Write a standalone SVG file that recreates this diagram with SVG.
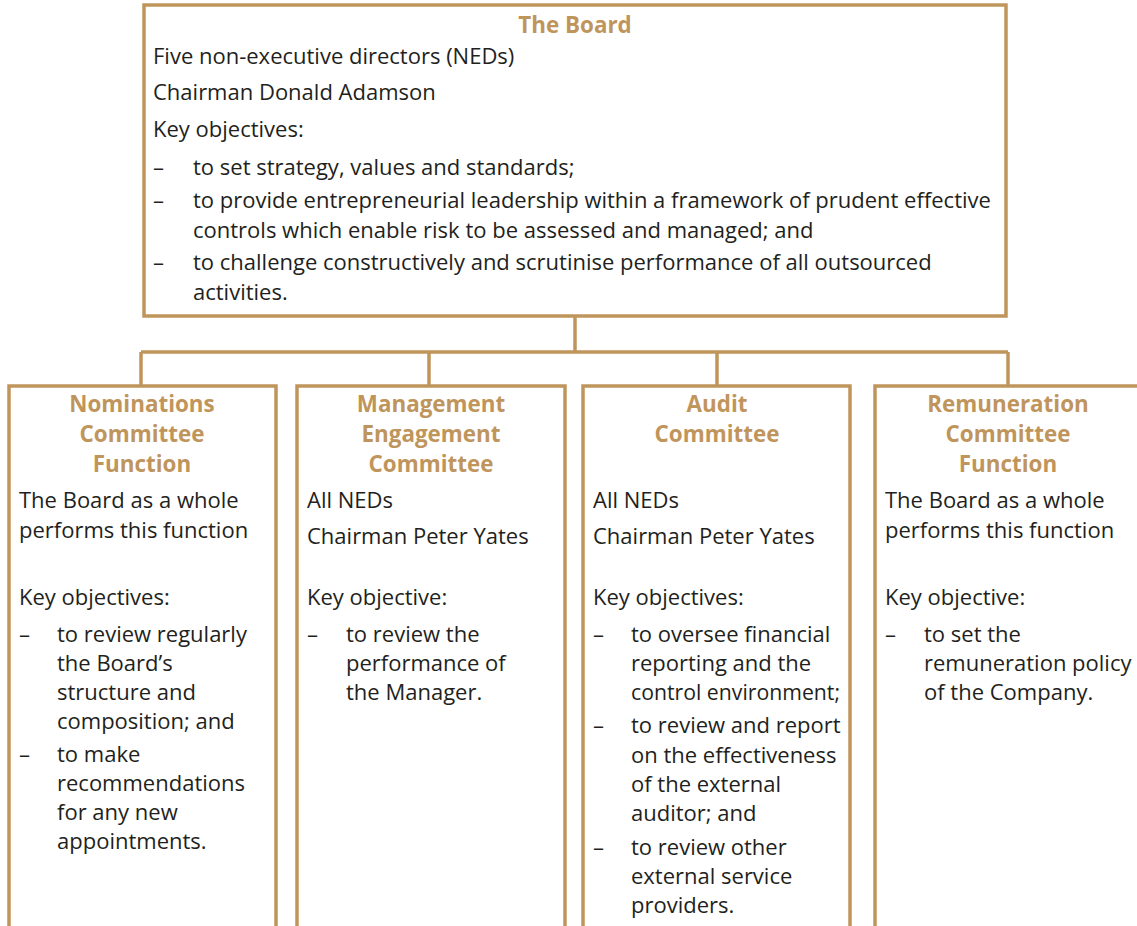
<svg xmlns="http://www.w3.org/2000/svg" width="1137" height="926" viewBox="0 0 1137 926">
<style>
.box{fill:#fff;stroke:#C0955C;stroke-width:3.5}
.conn{fill:none;stroke:#C0955C;stroke-width:3.5}
.t{font-family:"Open Sans","Liberation Sans",sans-serif;font-size:22px;fill:#231F20}
.h{font-family:"Open Sans","Liberation Sans",sans-serif;font-size:22.4px;font-weight:bold;fill:#C0955C;text-anchor:middle}
</style>
<rect width="1137" height="926" fill="#fff"/>
<g id="connectors">
<path class="conn" d="M575 317V352M141 352H1008M141 352V386M429 352V386M717 352V386M1008 352V386"/>
</g>
<g id="board">
<rect class="box" x="144" y="5" width="862" height="311"/>
<text class="h" x="575" y="33">The Board</text>
<text class="t" x="153" y="64">Five non-executive directors (NEDs)</text>
<text class="t" x="153" y="100">Chairman Donald Adamson</text>
<text class="t" x="153" y="137">Key objectives:</text>
<text class="t" x="153" y="175">–</text>
<text class="t" x="193" y="175">to set strategy, values and standards;</text>
<text class="t" x="153" y="208">–</text>
<text class="t" x="193" y="208">to provide entrepreneurial leadership within a framework of prudent effective</text>
<text class="t" x="193" y="238">controls which enable risk to be assessed and managed; and</text>
<text class="t" x="153" y="270">–</text>
<text class="t" x="193" y="270">to challenge constructively and scrutinise performance of all outsourced</text>
<text class="t" x="193" y="300">activities.</text>
</g>
<g id="nominations">
<rect class="box" x="9" y="386" width="267" height="600"/>
<text class="h" x="142" y="412">Nominations</text>
<text class="h" x="142" y="442">Committee</text>
<text class="h" x="142" y="472">Function</text>
<text class="t" x="19" y="508">The Board as a whole</text>
<text class="t" x="19" y="538">performs this function</text>
<text class="t" x="19" y="605">Key objectives:</text>
<text class="t" x="19" y="642">–</text>
<text class="t" x="57" y="642">to review regularly</text>
<text class="t" x="57" y="671">the Board’s</text>
<text class="t" x="57" y="700">structure and</text>
<text class="t" x="57" y="729">composition; and</text>
<text class="t" x="19" y="762">–</text>
<text class="t" x="57" y="762">to make</text>
<text class="t" x="57" y="791">recommendations</text>
<text class="t" x="57" y="820">for any new</text>
<text class="t" x="57" y="849">appointments.</text>
</g>
<g id="management">
<rect class="box" x="297" y="386" width="268" height="600"/>
<text class="h" x="431" y="412">Management</text>
<text class="h" x="431" y="442">Engagement</text>
<text class="h" x="431" y="472">Committee</text>
<text class="t" x="307" y="508">All NEDs</text>
<text class="t" x="307" y="544">Chairman Peter Yates</text>
<text class="t" x="307" y="605">Key objective:</text>
<text class="t" x="307" y="642">–</text>
<text class="t" x="346" y="642">to review the</text>
<text class="t" x="346" y="671">performance of</text>
<text class="t" x="346" y="700">the Manager.</text>
</g>
<g id="audit">
<rect class="box" x="583" y="386" width="267" height="600"/>
<text class="h" x="717" y="412">Audit</text>
<text class="h" x="717" y="442">Committee</text>
<text class="t" x="593" y="508">All NEDs</text>
<text class="t" x="593" y="544">Chairman Peter Yates</text>
<text class="t" x="593" y="605">Key objectives:</text>
<text class="t" x="593" y="642">–</text>
<text class="t" x="631" y="642">to oversee financial</text>
<text class="t" x="631" y="671">reporting and the</text>
<text class="t" x="631" y="700" textLength="209" lengthAdjust="spacingAndGlyphs">control environment;</text>
<text class="t" x="593" y="733">–</text>
<text class="t" x="631" y="733">to review and report</text>
<text class="t" x="631" y="763">on the effectiveness</text>
<text class="t" x="631" y="792">of the external</text>
<text class="t" x="631" y="821">auditor; and</text>
<text class="t" x="593" y="855">–</text>
<text class="t" x="631" y="855">to review other</text>
<text class="t" x="631" y="884">external service</text>
<text class="t" x="631" y="913">providers.</text>
</g>
<g id="remuneration">
<rect class="box" x="875" y="386" width="300" height="600"/>
<text class="h" x="1008" y="412">Remuneration</text>
<text class="h" x="1008" y="442">Committee</text>
<text class="h" x="1008" y="472">Function</text>
<text class="t" x="885" y="508">The Board as a whole</text>
<text class="t" x="885" y="538">performs this function</text>
<text class="t" x="885" y="605">Key objective:</text>
<text class="t" x="885" y="642">–</text>
<text class="t" x="924" y="642">to set the</text>
<text class="t" x="924" y="671">remuneration policy</text>
<text class="t" x="924" y="700">of the Company.</text>
</g>
</svg>
